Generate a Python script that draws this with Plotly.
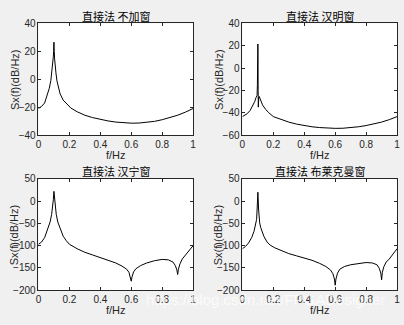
import plotly.graph_objects as go

# ---------------- data ----------------
titles = ["直接法 不加窗", "直接法 汉明窗", "直接法 汉宁窗", "直接法 布莱克曼窗"]

f1 = [0, 0.02, 0.04, 0.06, 0.07, 0.08, 0.087, 0.092, 0.096, 0.098, 0.1, 0.102, 0.104, 0.108,
      0.113, 0.12, 0.128, 0.14, 0.16, 0.18, 0.21, 0.25, 0.3, 0.35, 0.4, 0.45, 0.5, 0.55, 0.6,
      0.65, 0.7, 0.75, 0.8, 0.85, 0.9, 0.95, 1.0]
s1 = [-21, -19.5, -17, -11, -6.5, -1, 5, 10, 16, 20, 26.5, 20, 15, 9,
      4.5, -1.5, -6, -10.5, -15, -17.5, -20.7, -23.3, -25.8, -27.5, -28.8, -29.9, -30.7, -31.2, -31.5,
      -31.4, -31, -30.2, -29, -27.6, -25.8, -23.6, -21]

f2 = [0, 0.03, 0.05, 0.07, 0.08, 0.088, 0.092, 0.095, 0.097, 0.099, 0.1, 0.101, 0.102, 0.103,
      0.104, 0.106, 0.109, 0.115, 0.13, 0.15, 0.17, 0.2, 0.25, 0.3, 0.35, 0.4, 0.45, 0.5, 0.55,
      0.6, 0.65, 0.7, 0.75, 0.8, 0.85, 0.9, 0.95, 1.0]
s2 = [-43.5, -41, -38, -33, -30, -26.5, -25, -24.5, -15, 10, 21.5, 10, -20, -35,
      -30, -26, -25.5, -28, -33, -37, -40, -43.5, -46.3, -48.4, -50.2, -51.6, -52.6, -53.3, -53.8,
      -54, -53.9, -53.4, -52.6, -51.5, -50.1, -48.4, -46.2, -43.5]

f3 = [0, 0.02, 0.04, 0.06, 0.075, 0.085, 0.092, 0.096, 0.1, 0.104, 0.108, 0.115, 0.125, 0.14,
      0.16, 0.18, 0.2, 0.25, 0.3, 0.35, 0.4, 0.45, 0.5, 0.54, 0.57, 0.585, 0.595, 0.6, 0.605,
      0.615, 0.63, 0.66, 0.7, 0.75, 0.8, 0.84, 0.87, 0.885, 0.895, 0.9, 0.905, 0.915, 0.93,
      0.95, 0.975, 1.0]
s3 = [-97, -92, -82, -64, -47, -30, -12, 3, 22, 3, -12, -30, -47, -63,
      -79, -89, -97, -107, -115, -121, -127, -133, -139, -146, -153, -160, -170, -180, -170,
      -159, -152, -145, -139, -134, -131, -132, -137, -145, -155, -165, -153, -141, -130,
      -121, -111, -100]

f4 = [0, 0.02, 0.04, 0.06, 0.075, 0.082, 0.088, 0.092, 0.095, 0.098, 0.1, 0.102, 0.105, 0.108,
      0.112, 0.118, 0.125, 0.14, 0.16, 0.18, 0.21, 0.25, 0.3, 0.35, 0.4, 0.45, 0.5, 0.54, 0.57,
      0.585, 0.595, 0.6, 0.605, 0.615, 0.63, 0.66, 0.7, 0.75, 0.8, 0.84, 0.87, 0.885, 0.895,
      0.9, 0.905, 0.915, 0.93, 0.95, 0.975, 1.0]
s4 = [-107, -102, -94, -82, -68, -59, -49, -41, -20, 5, 20, 5, -20, -41,
      -49, -59, -67, -80, -92, -99, -105, -111, -118, -123, -128, -133, -140, -147, -155,
      -163, -175, -189, -175, -162, -153, -147, -143, -140, -138, -139, -143, -151, -162,
      -177, -160, -147, -137, -130, -119, -107]

x_ticks = [0, 0.2, 0.4, 0.6, 0.8, 1]
x_ticktext = ["0", "0.2", "0.4", "0.6", "0.8", "1"]
y_ranges = [[-40, 40], [-60, 40], [-200, 50], [-200, 50]]
y_ticks = [[-40, -20, 0, 20, 40], [-60, -40, -20, 0, 20, 40],
           [-200, -150, -100, -50, 0, 50], [-200, -150, -100, -50, 0, 50]]
x_label = "f/Hz"
y_label = "Sx(f)(dB/Hz)"
watermark = "https://blog.csdn.net/FPGADesigner"

# ---------------- layout ----------------
W, H = 404, 325
# axes boxes in pixels: (left, right, top, bottom)
boxes = [(36, 193, 18, 134), (243, 400, 18, 134),
         (36, 193, 179.5, 295), (243, 400, 179.5, 295)]

fig = go.Figure()
series = [(f1, s1), (f2, s2), (f3, s3), (f4, s4)]
txt_font = dict(family="Liberation Sans, Arial, sans-serif", size=10, color="#262626")
annotations = []
layout = dict(width=W, height=H, margin=dict(l=0, r=0, t=0, b=0),
              paper_bgcolor="#F0F0F0", plot_bgcolor="#FFFFFF", showlegend=False,
              font=txt_font)

for i, ((fx, sy), (l, r, t, b)) in enumerate(zip(series, boxes)):
    k = "" if i == 0 else str(i + 1)
    fig.add_trace(go.Scatter(x=fx, y=sy, mode="lines",
                             line=dict(color="#000000", width=1),
                             xaxis="x" + k, yaxis="y" + k, hoverinfo="skip"))
    axcommon = dict(showgrid=False, zeroline=False, showline=True, linecolor="#262626",
                    linewidth=0.7, mirror="ticks", ticks="inside", ticklen=3,
                    tickcolor="#262626", tickwidth=0.7, tickfont=txt_font)
    layout["xaxis" + k] = dict(axcommon, domain=[l / W, r / W], range=[0, 1],
                               tickvals=x_ticks, ticktext=x_ticktext,
                               anchor="y" + k)
    layout["yaxis" + k] = dict(axcommon, domain=[1 - b / H, 1 - t / H], range=y_ranges[i],
                               tickvals=y_ticks[i], anchor="x" + k)
    cx = (l + r) / 2
    annotations.append(dict(text=titles[i], x=cx / W, y=1 - (t - 8) / H, xref="paper",
                            yref="paper", showarrow=False, xanchor="center", yanchor="middle",
                            font=dict(family="Noto Sans CJK SC", size=11, color="#000000")))
    annotations.append(dict(text=x_label, x=cx / W, y=1 - (b + 21) / H, xref="paper",
                            yref="paper", showarrow=False, xanchor="center", yanchor="middle",
                            font=dict(txt_font, size=11)))
    annotations.append(dict(text=y_label, x=(l - 24) / W, y=1 - (t + b) / 2 / H, xref="paper",
                            yref="paper", showarrow=False, xanchor="center", yanchor="middle",
                            textangle=-90, font=dict(txt_font, size=11)))

annotations.append(dict(text=watermark, x=266 / W, y=1 - 305 / H, xref="paper", yref="paper",
                        showarrow=False, xanchor="center", yanchor="middle",
                        font=dict(family="Liberation Sans, Arial, sans-serif", size=15,
                                  color="rgba(255,255,255,0.75)")))
layout["annotations"] = annotations
fig.update_layout(**layout)
fig.write_html("out.html")
